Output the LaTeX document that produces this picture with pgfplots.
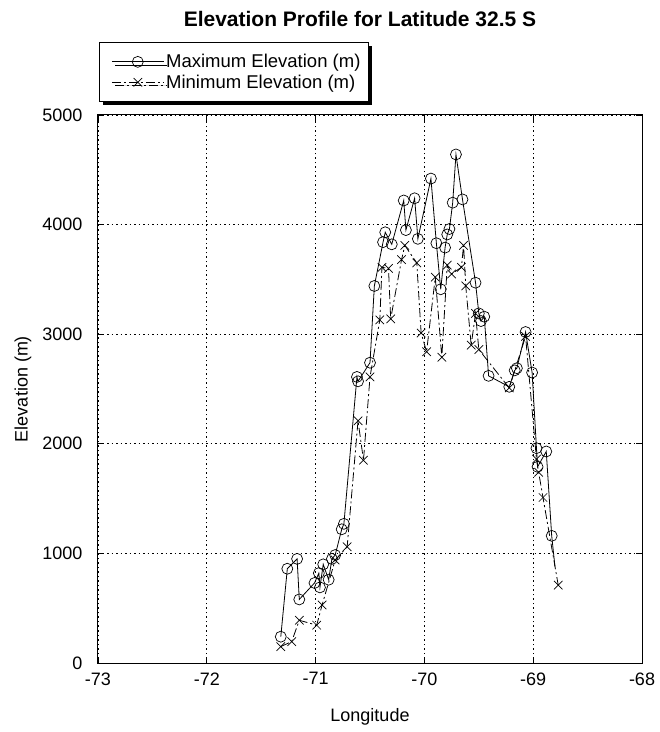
\documentclass[border=0pt]{standalone}
\usepackage{fontspec}
\setmainfont{Liberation Sans}
\usepackage{pgfplots}
\pgfplotsset{compat=1.18}
\usetikzlibrary{shadows}

% Maximum elevation along the parallel (longitude, metres)
\pgfplotstableread{
lon    elev
-71.32 240
-71.26 860
-71.17 950
-71.15 580
-71.01 730
-70.97 820
-70.96 690
-70.93 900
-70.88 760
-70.85 950
-70.82 985
-70.76 1220
-70.74 1270
-70.62 2610
-70.61 2570
-70.50 2740
-70.46 3440
-70.38 3840
-70.36 3930
-70.30 3820
-70.19 4220
-70.17 3950
-70.09 4240
-70.06 3870
-69.94 4420
-69.89 3830
-69.85 3410
-69.81 3790
-69.79 3910
-69.77 3960
-69.74 4200
-69.71 4640
-69.65 4230
-69.53 3470
-69.50 3190
-69.48 3120
-69.45 3160
-69.41 2620
-69.22 2520
-69.17 2670
-69.15 2690
-69.07 3020
-69.01 2650
-68.97 1960
-68.96 1790
-68.88 1930
-68.83 1160
}\maxtable

% Minimum elevation along the parallel
\pgfplotstableread{
lon    elev
-71.32 150
-71.22 195
-71.15 390
-70.99 345
-70.94 530
-70.82 940
-70.71 1060
-70.61 2210
-70.56 1850
-70.50 2610
-70.41 3130
-70.39 3610
-70.33 3600
-70.31 3140
-70.21 3680
-70.18 3810
-70.07 3650
-70.03 3010
-69.98 2840
-69.90 3520
-69.84 2790
-69.79 3630
-69.75 3550
-69.66 3610
-69.64 3810
-69.62 3440
-69.57 2900
-69.53 3190
-69.50 2860
-69.22 2510
-69.07 2980
-68.97 1860
-68.95 1740
-68.91 1510
-68.77 710
}\mintable

\begin{document}
\begin{tikzpicture}
\begin{axis}[
  scale only axis,
  width=544pt, height=548pt,
  xmin=-73, xmax=-68, ymin=0, ymax=5000,
  xtick={-73,-72,...,-68},
  ytick={0,1000,...,5000},
  /pgf/number format/assume math mode=true,
  /pgf/number format/set thousands separator={},
  tick label style={font=\fontsize{18}{20}\selectfont},
  xticklabel style={yshift=-6pt},
  yticklabel style={xshift=-12pt},
  tick align=inside,
  major tick length=6pt,
  tick style={black, line width=0.8pt},
  axis line style={black, line width=1pt},
  grid=major,
  major grid style={black, line width=0.8pt, dash pattern=on 1.5pt off 3pt},
  xlabel={Longitude},
  ylabel={Elevation (m)},
  every axis x label/.style={at={(axis description cs:0.5,-0.0985)}, anchor=center, font=\fontsize{18}{20}\selectfont},
  every axis y label/.style={at={(axis description cs:-0.1379,0.5)}, rotate=90, anchor=center, font=\fontsize{18}{20}\selectfont},
  title={Elevation Profile for Latitude 32.5 S},
  title style={at={(axis description cs:0.4816,1.1650)}, anchor=center, font=\bfseries\fontsize{21}{24}\selectfont},
  legend style={
    at={(axis description cs:0.0018,1.1332)}, anchor=north west,
    draw=black, line width=0.8pt, fill=white,
    drop shadow={shadow xshift=3.5pt, shadow yshift=-3.5pt, fill=black, opacity=1},
    font=\fontsize{18.5}{21}\selectfont,
    inner xsep=6pt, inner ysep=10pt,
    row sep=1.5pt,
    cells={anchor=west},
    /tikz/every even column/.append style={column sep=0pt},
  },
  legend image code/.code={%
    \path (0pt,0pt);
    \draw[mark repeat=2, mark phase=2, #1] plot coordinates {(6pt,0pt) (32pt,0pt) (58pt,0pt)};},
]
\addplot[black, line width=0.8pt, mark=o, mark size=5.5pt, mark options={solid, line width=0.7pt}]
  table[x=lon, y=elev] {\maxtable};
\addlegendentry{Maximum Elevation (m)}
\addplot[black, line width=0.8pt, dash pattern=on 9pt off 3pt on 2pt off 3pt, mark=x, mark size=6pt, mark options={solid, line width=0.7pt}]
  table[x=lon, y=elev] {\mintable};
\addlegendentry{Minimum Elevation (m)}
% trailing segment of the maximum profile beyond the last sample mark
\addplot[black, line width=0.8pt, forget plot] coordinates {(-68.83,1160) (-68.80,880)};
\coordinate (bl) at (rel axis cs:0,0);
\coordinate (tr) at (rel axis cs:1,1);
\end{axis}
\pgfresetboundingbox
\path[use as bounding box] ([shift={(-98pt,-69pt)}]bl) rectangle ([shift={(17pt,115pt)}]tr);
\end{tikzpicture}
\end{document}
